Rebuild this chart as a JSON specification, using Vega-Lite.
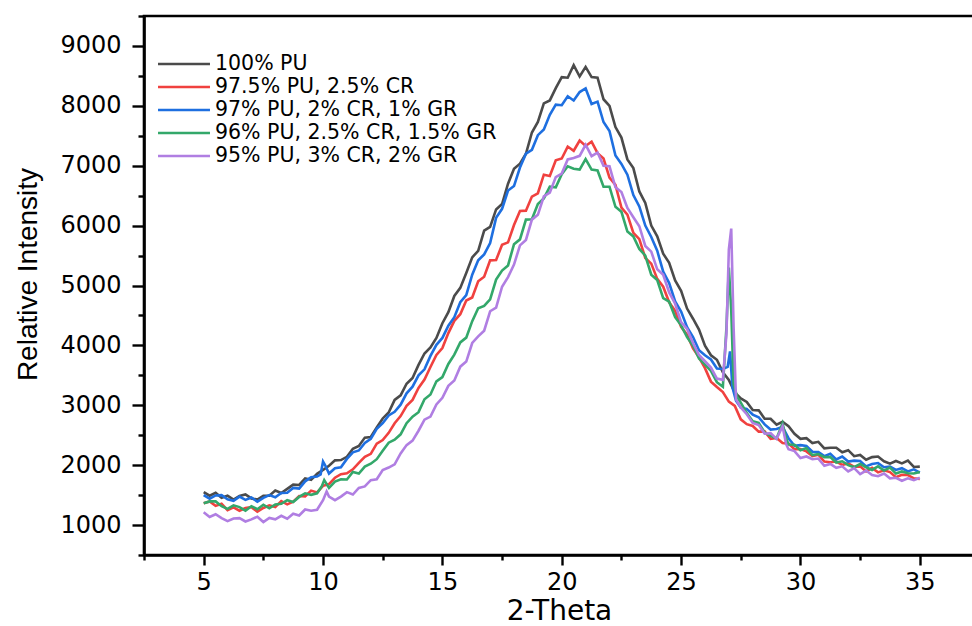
{
  "$schema": "https://vega.github.io/schema/vega-lite/v6.json",
  "width": 830,
  "height": 539,
  "autosize": {"type": "none"},
  "padding": {"left": 144, "top": 16, "right": 0, "bottom": 71},
  "background": "white",
  "config": {
    "view": {"stroke": "black", "strokeWidth": 2.6},
    "axis": {
      "grid": false,
      "domainColor": "black",
      "domainWidth": 2.6,
      "tickColor": "black",
      "tickWidth": 2.4,
      "labelFont": "DejaVu Sans",
      "labelFontSize": 24,
      "labelColor": "black",
      "labelOverlap": false,
      "titleColor": "black",
      "titleFontWeight": "normal"
    },
    "legend": {
      "orient": "none",
      "legendX": 28,
      "legendY": 36,
      "padding": 0,
      "symbolType": "M-2.5,0H2.5",
      "symbolSize": 432,
      "symbolStrokeWidth": 2.5,
      "labelFont": "DejaVu Sans",
      "labelFontSize": 20.5,
      "labelColor": "black",
      "labelLimit": 500,
      "labelOffset": 19,
      "rowPadding": 0
    }
  },
  "resolve": {"axis": {"x": "independent", "y": "independent"}},
  "layer": [
    {
      "data": {"values": [
        {"x":5,"y":1550},{"x":5.25,"y":1490},{"x":5.5,"y":1540},{"x":5.75,"y":1455},{"x":6,"y":1490},{"x":6.25,"y":1425},{"x":6.5,"y":1485},{"x":6.75,"y":1510},{"x":7,"y":1445},{"x":7.25,"y":1425},{"x":7.5,"y":1490},{"x":7.75,"y":1490},{"x":8,"y":1575},{"x":8.25,"y":1535},{"x":8.5,"y":1605},{"x":8.75,"y":1675},{"x":9,"y":1670},{"x":9.25,"y":1780},{"x":9.5,"y":1755},{"x":9.75,"y":1855},{"x":10,"y":1920},{"x":10.25,"y":1990},{"x":10.5,"y":2080},{"x":10.75,"y":2085},{"x":11,"y":2140},{"x":11.25,"y":2275},{"x":11.5,"y":2320},{"x":11.75,"y":2460},{"x":12,"y":2470},{"x":12.25,"y":2630},{"x":12.5,"y":2780},{"x":12.75,"y":2880},{"x":13,"y":3090},{"x":13.25,"y":3165},{"x":13.5,"y":3360},{"x":13.75,"y":3455},{"x":14,"y":3675},{"x":14.25,"y":3865},{"x":14.5,"y":3965},{"x":14.75,"y":4125},{"x":15,"y":4370},{"x":15.25,"y":4555},{"x":15.5,"y":4825},{"x":15.75,"y":4960},{"x":16,"y":5210},{"x":16.25,"y":5470},{"x":16.5,"y":5580},{"x":16.75,"y":5915},{"x":17,"y":5980},{"x":17.25,"y":6270},{"x":17.5,"y":6360},{"x":17.75,"y":6700},{"x":18,"y":6950},{"x":18.25,"y":7035},{"x":18.5,"y":7200},{"x":18.75,"y":7555},{"x":19,"y":7730},{"x":19.25,"y":8040},{"x":19.5,"y":8090},{"x":19.75,"y":8295},{"x":20,"y":8480},{"x":20.25,"y":8470},{"x":20.5,"y":8680},{"x":20.75,"y":8490},{"x":21,"y":8650},{"x":21.25,"y":8480},{"x":21.5,"y":8470},{"x":21.75,"y":8110},{"x":22,"y":8000},{"x":22.25,"y":7645},{"x":22.5,"y":7470},{"x":22.75,"y":7105},{"x":23,"y":6960},{"x":23.25,"y":6570},{"x":23.5,"y":6380},{"x":23.75,"y":6000},{"x":24,"y":5820},{"x":24.25,"y":5530},{"x":24.5,"y":5380},{"x":24.75,"y":5085},{"x":25,"y":4910},{"x":25.25,"y":4615},{"x":25.5,"y":4445},{"x":25.75,"y":4265},{"x":26,"y":3995},{"x":26.25,"y":3835},{"x":26.5,"y":3760},{"x":26.75,"y":3550},{"x":27,"y":3425},{"x":27.25,"y":3215},{"x":27.5,"y":3115},{"x":27.75,"y":3055},{"x":28,"y":2920},{"x":28.25,"y":2915},{"x":28.5,"y":2775},{"x":28.75,"y":2775},{"x":29,"y":2675},{"x":29.25,"y":2725},{"x":29.5,"y":2650},{"x":29.75,"y":2525},{"x":30,"y":2440},{"x":30.25,"y":2450},{"x":30.5,"y":2370},{"x":30.75,"y":2390},{"x":31,"y":2280},{"x":31.25,"y":2290},{"x":31.5,"y":2290},{"x":31.75,"y":2215},{"x":32,"y":2250},{"x":32.25,"y":2150},{"x":32.5,"y":2170},{"x":32.75,"y":2090},{"x":33,"y":2135},{"x":33.25,"y":2145},{"x":33.5,"y":2065},{"x":33.75,"y":2025},{"x":34,"y":2070},{"x":34.25,"y":2030},{"x":34.5,"y":2075},{"x":34.75,"y":1970},{"x":35,"y":1975}
      ]},
      "mark": {"type": "line", "strokeWidth": 2.6},
      "encoding": {
        "x": {
          "field": "x", "type": "quantitative",
          "scale": {"domain": [2.5, 37.27], "nice": false, "zero": false},
          "axis": {
            "orient": "bottom",
            "title": "2-Theta",
            "titleFont": "DejaVu Sans",
            "titleFontSize": 28,
            "titlePadding": 3,
            "values": [5,10,15,20,25,30,35],
            "tickSize": 10,
            "labelPadding": 5,
            "labelFlush": false,
            "format": "d"
          }
        },
        "y": {
          "field": "y", "type": "quantitative",
          "scale": {"domain": [500, 9500], "nice": false, "zero": false},
          "axis": {
            "orient": "left",
            "title": "Relative Intensity",
            "titleFont": "Liberation Sans",
            "titleFontSize": 28,
            "titleY": 258,
            "titlePadding": 17,
            "values": [1000,2000,3000,4000,5000,6000,7000,8000,9000],
            "tickSize": 12,
            "labelPadding": 11,
            "format": "d"
          }
        },
        "color": {
          "datum": "100% PU", "type": "nominal",
          "scale": {
            "domain": ["100% PU", "97.5% PU, 2.5% CR", "97% PU, 2% CR, 1% GR", "96% PU, 2.5% CR, 1.5% GR", "95% PU, 3% CR, 2% GR"],
            "range": ["#4b4b4b", "#f0413f", "#1e6fe0", "#33a86a", "#b07ee2"]
          },
          "legend": {"title": null}
        }
      }
    },
    {
      "data": {"values": [
        {"x":5,"y":1365},{"x":5.25,"y":1395},{"x":5.5,"y":1320},{"x":5.75,"y":1355},{"x":6,"y":1250},{"x":6.25,"y":1295},{"x":6.5,"y":1240},{"x":6.75,"y":1285},{"x":7,"y":1300},{"x":7.25,"y":1225},{"x":7.5,"y":1285},{"x":7.75,"y":1330},{"x":8,"y":1300},{"x":8.25,"y":1400},{"x":8.5,"y":1345},{"x":8.75,"y":1390},{"x":9,"y":1485},{"x":9.25,"y":1480},{"x":9.5,"y":1575},{"x":9.75,"y":1545},{"x":10,"y":1655},{"x":10.25,"y":1685},{"x":10.5,"y":1790},{"x":10.75,"y":1850},{"x":11,"y":1865},{"x":11.25,"y":1930},{"x":11.5,"y":2040},{"x":11.75,"y":2140},{"x":12,"y":2190},{"x":12.25,"y":2360},{"x":12.5,"y":2420},{"x":12.75,"y":2540},{"x":13,"y":2700},{"x":13.25,"y":2820},{"x":13.5,"y":2990},{"x":13.75,"y":3090},{"x":14,"y":3290},{"x":14.25,"y":3430},{"x":14.5,"y":3640},{"x":14.75,"y":3840},{"x":15,"y":3955},{"x":15.25,"y":4205},{"x":15.5,"y":4410},{"x":15.75,"y":4520},{"x":16,"y":4750},{"x":16.25,"y":4800},{"x":16.5,"y":5070},{"x":16.75,"y":5145},{"x":17,"y":5420},{"x":17.25,"y":5425},{"x":17.5,"y":5680},{"x":17.75,"y":5720},{"x":18,"y":6010},{"x":18.25,"y":6245},{"x":18.5,"y":6250},{"x":18.75,"y":6485},{"x":19,"y":6540},{"x":19.25,"y":6850},{"x":19.5,"y":6830},{"x":19.75,"y":7090},{"x":20,"y":7120},{"x":20.25,"y":7320},{"x":20.5,"y":7250},{"x":20.75,"y":7420},{"x":21,"y":7330},{"x":21.25,"y":7400},{"x":21.5,"y":7210},{"x":21.75,"y":7120},{"x":22,"y":6800},{"x":22.25,"y":6680},{"x":22.5,"y":6300},{"x":22.75,"y":6185},{"x":23,"y":5880},{"x":23.25,"y":5775},{"x":23.5,"y":5460},{"x":23.75,"y":5365},{"x":24,"y":5110},{"x":24.25,"y":4980},{"x":24.5,"y":4720},{"x":24.75,"y":4575},{"x":25,"y":4310},{"x":25.25,"y":4180},{"x":25.5,"y":3950},{"x":25.75,"y":3800},{"x":26,"y":3620},{"x":26.25,"y":3395},{"x":26.5,"y":3305},{"x":26.75,"y":3220},{"x":27,"y":3060},{"x":27.25,"y":2990},{"x":27.5,"y":2765},{"x":27.75,"y":2685},{"x":28,"y":2655},{"x":28.25,"y":2560},{"x":28.5,"y":2565},{"x":28.75,"y":2440},{"x":29,"y":2455},{"x":29.25,"y":2370},{"x":29.5,"y":2360},{"x":29.75,"y":2265},{"x":30,"y":2270},{"x":30.25,"y":2230},{"x":30.5,"y":2150},{"x":30.75,"y":2175},{"x":31,"y":2060},{"x":31.25,"y":2050},{"x":31.5,"y":2060},{"x":31.75,"y":2005},{"x":32,"y":2030},{"x":32.25,"y":1970},{"x":32.5,"y":1980},{"x":32.75,"y":1895},{"x":33,"y":1955},{"x":33.25,"y":1880},{"x":33.5,"y":1915},{"x":33.75,"y":1885},{"x":34,"y":1800},{"x":34.25,"y":1840},{"x":34.5,"y":1835},{"x":34.75,"y":1780},{"x":35,"y":1770}
      ]},
      "mark": {"type": "line", "strokeWidth": 2.6},
      "encoding": {
        "x": {"field": "x", "type": "quantitative",
          "axis": {"orient": "bottom", "values": [2.5,7.5,12.5,17.5,22.5,27.5,32.5], "tickSize": 5, "labels": false, "domain": false, "title": null}},
        "y": {"field": "y", "type": "quantitative",
          "axis": {"orient": "left", "values": [500,1500,2500,3500,4500,5500,6500,7500,8500,9500], "tickSize": 6, "labels": false, "domain": false, "title": null}},
        "color": {"datum": "97.5% PU, 2.5% CR", "type": "nominal"}
      }
    },
    {
      "data": {"values": [
        {"x":5,"y":1500},{"x":5.25,"y":1440},{"x":5.5,"y":1495},{"x":5.75,"y":1500},{"x":6,"y":1430},{"x":6.25,"y":1405},{"x":6.5,"y":1475},{"x":6.75,"y":1420},{"x":7,"y":1460},{"x":7.25,"y":1390},{"x":7.5,"y":1455},{"x":7.75,"y":1500},{"x":8,"y":1465},{"x":8.25,"y":1535},{"x":8.5,"y":1540},{"x":8.75,"y":1620},{"x":9,"y":1610},{"x":9.25,"y":1730},{"x":9.5,"y":1800},{"x":9.75,"y":1810},{"x":9.9,"y":1845},{"x":10,"y":2060},{"x":10.1,"y":1990},{"x":10.25,"y":1860},{"x":10.5,"y":1950},{"x":10.75,"y":1965},{"x":11,"y":2105},{"x":11.25,"y":2215},{"x":11.5,"y":2245},{"x":11.75,"y":2370},{"x":12,"y":2440},{"x":12.25,"y":2605},{"x":12.5,"y":2700},{"x":12.75,"y":2830},{"x":13,"y":2890},{"x":13.25,"y":3010},{"x":13.5,"y":3200},{"x":13.75,"y":3310},{"x":14,"y":3500},{"x":14.25,"y":3600},{"x":14.5,"y":3825},{"x":14.75,"y":4010},{"x":15,"y":4125},{"x":15.25,"y":4330},{"x":15.5,"y":4470},{"x":15.75,"y":4720},{"x":16,"y":4840},{"x":16.25,"y":5180},{"x":16.5,"y":5420},{"x":16.75,"y":5520},{"x":17,"y":5710},{"x":17.25,"y":6130},{"x":17.5,"y":6280},{"x":17.75,"y":6585},{"x":18,"y":6660},{"x":18.25,"y":6970},{"x":18.5,"y":7200},{"x":18.75,"y":7265},{"x":19,"y":7510},{"x":19.25,"y":7605},{"x":19.5,"y":7850},{"x":19.75,"y":8020},{"x":20,"y":8010},{"x":20.25,"y":8160},{"x":20.5,"y":8090},{"x":20.75,"y":8230},{"x":21,"y":8290},{"x":21.25,"y":8030},{"x":21.5,"y":8070},{"x":21.75,"y":7730},{"x":22,"y":7580},{"x":22.25,"y":7170},{"x":22.5,"y":7030},{"x":22.75,"y":6850},{"x":23,"y":6510},{"x":23.25,"y":6320},{"x":23.5,"y":6000},{"x":23.75,"y":5810},{"x":24,"y":5580},{"x":24.25,"y":5230},{"x":24.5,"y":5040},{"x":24.75,"y":4735},{"x":25,"y":4565},{"x":25.25,"y":4305},{"x":25.5,"y":4140},{"x":25.75,"y":3920},{"x":26,"y":3835},{"x":26.25,"y":3765},{"x":26.5,"y":3615},{"x":26.75,"y":3605},{"x":26.95,"y":3640},{"x":27.05,"y":3900},{"x":27.15,"y":3300},{"x":27.3,"y":3075},{"x":27.5,"y":2960},{"x":27.75,"y":2940},{"x":28,"y":2845},{"x":28.25,"y":2800},{"x":28.5,"y":2680},{"x":28.75,"y":2595},{"x":29,"y":2605},{"x":29.25,"y":2640},{"x":29.5,"y":2450},{"x":29.75,"y":2325},{"x":30,"y":2335},{"x":30.25,"y":2320},{"x":30.5,"y":2225},{"x":30.75,"y":2220},{"x":31,"y":2150},{"x":31.25,"y":2190},{"x":31.5,"y":2095},{"x":31.75,"y":2145},{"x":32,"y":2060},{"x":32.25,"y":2075},{"x":32.5,"y":2070},{"x":32.75,"y":1980},{"x":33,"y":2020},{"x":33.25,"y":2035},{"x":33.5,"y":1965},{"x":33.75,"y":1975},{"x":34,"y":1920},{"x":34.25,"y":1950},{"x":34.5,"y":1895},{"x":34.75,"y":1930},{"x":35,"y":1875}
      ]},
      "mark": {"type": "line", "strokeWidth": 2.6},
      "encoding": {
        "x": {"field": "x", "type": "quantitative", "axis": null},
        "y": {"field": "y", "type": "quantitative", "axis": null},
        "color": {"datum": "97% PU, 2% CR, 1% GR", "type": "nominal"}
      }
    },
    {
      "data": {"values": [
        {"x":5,"y":1365},{"x":5.25,"y":1395},{"x":5.5,"y":1395},{"x":5.75,"y":1315},{"x":6,"y":1270},{"x":6.25,"y":1330},{"x":6.5,"y":1300},{"x":6.75,"y":1240},{"x":7,"y":1315},{"x":7.25,"y":1265},{"x":7.5,"y":1340},{"x":7.75,"y":1280},{"x":8,"y":1345},{"x":8.25,"y":1355},{"x":8.5,"y":1415},{"x":8.75,"y":1385},{"x":9,"y":1470},{"x":9.25,"y":1530},{"x":9.5,"y":1505},{"x":9.75,"y":1530},{"x":9.95,"y":1650},{"x":10.05,"y":1750},{"x":10.25,"y":1620},{"x":10.5,"y":1725},{"x":10.75,"y":1765},{"x":11,"y":1760},{"x":11.25,"y":1885},{"x":11.5,"y":1860},{"x":11.75,"y":1975},{"x":12,"y":2025},{"x":12.25,"y":2100},{"x":12.5,"y":2240},{"x":12.75,"y":2375},{"x":13,"y":2425},{"x":13.25,"y":2515},{"x":13.5,"y":2700},{"x":13.75,"y":2810},{"x":14,"y":2885},{"x":14.25,"y":3100},{"x":14.5,"y":3180},{"x":14.75,"y":3400},{"x":15,"y":3470},{"x":15.25,"y":3690},{"x":15.5,"y":3845},{"x":15.75,"y":4050},{"x":16,"y":4130},{"x":16.25,"y":4405},{"x":16.5,"y":4620},{"x":16.75,"y":4660},{"x":17,"y":4770},{"x":17.25,"y":5100},{"x":17.5,"y":5250},{"x":17.75,"y":5335},{"x":18,"y":5690},{"x":18.25,"y":5770},{"x":18.5,"y":6100},{"x":18.75,"y":6105},{"x":19,"y":6360},{"x":19.25,"y":6455},{"x":19.5,"y":6650},{"x":19.75,"y":6640},{"x":20,"y":6860},{"x":20.25,"y":6990},{"x":20.5,"y":6950},{"x":20.75,"y":6935},{"x":21,"y":7110},{"x":21.25,"y":6935},{"x":21.5,"y":6920},{"x":21.75,"y":6650},{"x":22,"y":6650},{"x":22.25,"y":6315},{"x":22.5,"y":6230},{"x":22.75,"y":5900},{"x":23,"y":5820},{"x":23.25,"y":5610},{"x":23.5,"y":5500},{"x":23.75,"y":5180},{"x":24,"y":5090},{"x":24.25,"y":4790},{"x":24.5,"y":4730},{"x":24.75,"y":4470},{"x":25,"y":4335},{"x":25.25,"y":4140},{"x":25.5,"y":3995},{"x":25.75,"y":3780},{"x":26,"y":3680},{"x":26.25,"y":3575},{"x":26.5,"y":3385},{"x":26.75,"y":3310},{"x":26.9,"y":4300},{"x":27,"y":5300},{"x":27.1,"y":4600},{"x":27.2,"y":3350},{"x":27.35,"y":3140},{"x":27.5,"y":3045},{"x":27.75,"y":2870},{"x":28,"y":2735},{"x":28.25,"y":2705},{"x":28.5,"y":2545},{"x":28.75,"y":2490},{"x":29,"y":2445},{"x":29.25,"y":2700},{"x":29.4,"y":2450},{"x":29.5,"y":2345},{"x":29.75,"y":2340},{"x":30,"y":2250},{"x":30.25,"y":2285},{"x":30.5,"y":2170},{"x":30.75,"y":2185},{"x":31,"y":2135},{"x":31.25,"y":2135},{"x":31.5,"y":2045},{"x":31.75,"y":2065},{"x":32,"y":2000},{"x":32.25,"y":1965},{"x":32.5,"y":2020},{"x":32.75,"y":1965},{"x":33,"y":1920},{"x":33.25,"y":1980},{"x":33.5,"y":1910},{"x":33.75,"y":1960},{"x":34,"y":1860},{"x":34.25,"y":1895},{"x":34.5,"y":1865},{"x":34.75,"y":1860},{"x":35,"y":1885}
      ]},
      "mark": {"type": "line", "strokeWidth": 2.6},
      "encoding": {
        "x": {"field": "x", "type": "quantitative", "axis": null},
        "y": {"field": "y", "type": "quantitative", "axis": null},
        "color": {"datum": "96% PU, 2.5% CR, 1.5% GR", "type": "nominal"}
      }
    },
    {
      "data": {"values": [
        {"x":5,"y":1215},{"x":5.25,"y":1135},{"x":5.5,"y":1180},{"x":5.75,"y":1115},{"x":6,"y":1065},{"x":6.25,"y":1110},{"x":6.5,"y":1115},{"x":6.75,"y":1060},{"x":7,"y":1095},{"x":7.25,"y":1140},{"x":7.5,"y":1050},{"x":7.75,"y":1120},{"x":8,"y":1095},{"x":8.25,"y":1155},{"x":8.5,"y":1105},{"x":8.75,"y":1190},{"x":9,"y":1160},{"x":9.25,"y":1260},{"x":9.5,"y":1240},{"x":9.75,"y":1255},{"x":10,"y":1415},{"x":10.15,"y":1560},{"x":10.25,"y":1475},{"x":10.5,"y":1415},{"x":10.75,"y":1475},{"x":11,"y":1550},{"x":11.25,"y":1510},{"x":11.5,"y":1620},{"x":11.75,"y":1645},{"x":12,"y":1750},{"x":12.25,"y":1765},{"x":12.5,"y":1920},{"x":12.75,"y":1960},{"x":13,"y":2015},{"x":13.25,"y":2195},{"x":13.5,"y":2335},{"x":13.75,"y":2410},{"x":14,"y":2575},{"x":14.25,"y":2760},{"x":14.5,"y":2810},{"x":14.75,"y":3015},{"x":15,"y":3125},{"x":15.25,"y":3325},{"x":15.5,"y":3415},{"x":15.75,"y":3645},{"x":16,"y":3730},{"x":16.25,"y":4040},{"x":16.5,"y":4150},{"x":16.75,"y":4245},{"x":17,"y":4570},{"x":17.25,"y":4630},{"x":17.5,"y":4980},{"x":17.75,"y":5140},{"x":18,"y":5350},{"x":18.25,"y":5670},{"x":18.5,"y":5760},{"x":18.75,"y":6100},{"x":19,"y":6180},{"x":19.25,"y":6490},{"x":19.5,"y":6550},{"x":19.75,"y":6810},{"x":20,"y":6870},{"x":20.25,"y":7105},{"x":20.5,"y":7130},{"x":20.75,"y":7165},{"x":21,"y":7350},{"x":21.25,"y":7160},{"x":21.5,"y":7220},{"x":21.75,"y":7000},{"x":22,"y":6990},{"x":22.25,"y":6640},{"x":22.5,"y":6560},{"x":22.75,"y":6295},{"x":23,"y":6140},{"x":23.25,"y":5990},{"x":23.5,"y":5660},{"x":23.75,"y":5565},{"x":24,"y":5270},{"x":24.25,"y":5180},{"x":24.5,"y":4885},{"x":24.75,"y":4695},{"x":25,"y":4390},{"x":25.25,"y":4275},{"x":25.5,"y":4040},{"x":25.75,"y":3840},{"x":26,"y":3735},{"x":26.25,"y":3630},{"x":26.5,"y":3445},{"x":26.75,"y":3425},{"x":26.9,"y":4200},{"x":27,"y":5600},{"x":27.1,"y":5950},{"x":27.2,"y":4300},{"x":27.3,"y":3100},{"x":27.5,"y":2965},{"x":27.75,"y":2850},{"x":28,"y":2705},{"x":28.25,"y":2670},{"x":28.5,"y":2525},{"x":28.75,"y":2535},{"x":29,"y":2440},{"x":29.25,"y":2650},{"x":29.4,"y":2350},{"x":29.5,"y":2265},{"x":29.75,"y":2235},{"x":30,"y":2120},{"x":30.25,"y":2145},{"x":30.5,"y":2100},{"x":30.75,"y":2110},{"x":31,"y":1990},{"x":31.25,"y":2020},{"x":31.5,"y":1955},{"x":31.75,"y":1980},{"x":32,"y":1895},{"x":32.25,"y":1950},{"x":32.5,"y":1850},{"x":32.75,"y":1910},{"x":33,"y":1835},{"x":33.25,"y":1815},{"x":33.5,"y":1860},{"x":33.75,"y":1780},{"x":34,"y":1790},{"x":34.25,"y":1740},{"x":34.5,"y":1780},{"x":34.75,"y":1750},{"x":35,"y":1790}
      ]},
      "mark": {"type": "line", "strokeWidth": 2.6},
      "encoding": {
        "x": {"field": "x", "type": "quantitative", "axis": null},
        "y": {"field": "y", "type": "quantitative", "axis": null},
        "color": {"datum": "95% PU, 3% CR, 2% GR", "type": "nominal"}
      }
    }
  ]
}
